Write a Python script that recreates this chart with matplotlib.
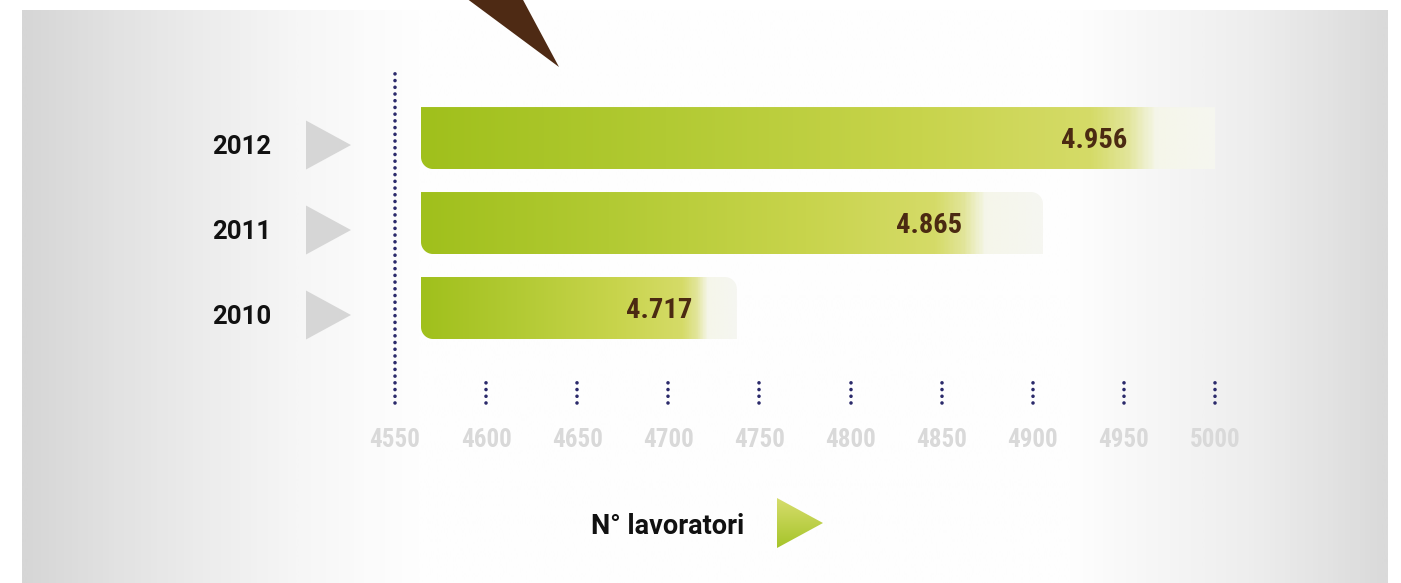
import matplotlib
matplotlib.use("Agg")
import matplotlib.pyplot as plt
import numpy as np
from matplotlib import font_manager
from matplotlib.colors import LinearSegmentedColormap, Normalize
from matplotlib.patches import Polygon, PathPatch
from matplotlib.path import Path
from matplotlib.transforms import blended_transform_factory

# data
years = ["2010", "2011", "2012"]
workers = [4717, 4865, 4956]
tick_values = [4550, 4600, 4650, 4700, 4750, 4800, 4850, 4900, 4950, 5000]
axis_title = "N° lavoratori"

W, H = 1401, 583
BOLD = ["Roboto", "DejaVu Sans"]
DOT_BLUE = "#2b2a6b"


def pick_narrow_bold():
    """Find a condensed bold face among the installed fonts."""
    prefs = ["Roboto Condensed", "Open Sans Condensed", "Liberation Sans Narrow",
             "DejaVu Sans Condensed", "DejaVu Sans"]
    found = {}
    for f in font_manager.fontManager.ttflist:
        w = f.weight if isinstance(f.weight, int) else font_manager.weight_dict.get(f.weight, 400)
        narrow = f.stretch in ("condensed", "semi-condensed", "extra-condensed") \
            or "Narrow" in f.name or "Condensed" in f.name or "Cond" in f.fname
        if narrow and w >= 600 and "Italic" not in f.fname and "Oblique" not in f.fname:
            found.setdefault(f.name, f.fname)
    for name in prefs:
        if name in found:
            return font_manager.FontProperties(fname=found[name])
    if found:
        return font_manager.FontProperties(fname=sorted(found.values())[0])
    return font_manager.FontProperties(family="DejaVu Sans", weight="bold",
                                       stretch="condensed")


narrow_fp = pick_narrow_bold()

fig = plt.figure(figsize=(W / 100, H / 100), dpi=100)
fig.patch.set_facecolor("white")

# backdrop in pixel coordinates
bg = fig.add_axes([0, 0, 1, 1])
bg.axis("off")

panel_cmap = LinearSegmentedColormap.from_list(
    "panel",
    [(0.0, "#d6d6d6"), (0.072, "#e3e3e3"), (0.13, "#ececec"), (0.2, "#f6f6f6"),
     (0.25, "#fbfbfb"), (0.29, "#fefefe"), (0.77, "#fefefe"), (0.825, "#f7f7f7"),
     (0.9, "#eeeeee"), (0.957, "#e3e3e3"), (1.0, "#dadada")],
)
bg.imshow(np.linspace(0, 1, 600).reshape(1, -1), cmap=panel_cmap, aspect="auto",
          extent=[22, 1388, 583, 10], interpolation="bilinear")

# brown pointer at the top
bg.add_patch(Polygon([(466, -2), (522, -2), (559, 67)], closed=True,
                     facecolor="#4e2a14", edgecolor="none"))

# axis title with green arrow
bg.text(744, 527, axis_title, ha="right", va="center", fontsize=19.5,
        fontweight="bold", family=BOLD, color="#111111")
arrow = Polygon([(777, 498), (823, 523), (777, 548)], closed=True,
                facecolor="none", edgecolor="none")
bg.add_patch(arrow)
arrow_cmap = LinearSegmentedColormap.from_list("arrow", ["#a6c42a", "#d6dd6c"])
arrow_img = bg.imshow(np.linspace(0, 1, 100).reshape(-1, 1), cmap=arrow_cmap,
                      aspect="auto", extent=[777, 823, 548, 498], origin="lower")
arrow_img.set_clip_path(arrow)

bg.set_xlim(0, W)
bg.set_ylim(H, 0)

# main chart axes
ax = fig.add_axes([395 / W, (H - 406) / H, 820 / W, 338 / H])
ax.patch.set_alpha(0)
for spine in ax.spines.values():
    spine.set_visible(False)

px_x = 820 / (tick_values[-1] - tick_values[0])  # pixels per worker
px_y = 85.0  # pixels per category step
bar_h = 62 / px_y
bar_left = tick_values[0] + 26 / px_x
rx, ry = 12 / px_x, 12 / px_y

bar_cmap = LinearSegmentedColormap.from_list(
    "bar",
    [(0.0, "#a0c01c"), (0.3, "#b2ca33"), (0.62, "#c8d44c"), (0.83, "#d5db68"),
     (0.875, "#e2e59a"), (0.91, "#f5f6ea"), (1.0, "#f6f6f1")],
)
tail_ratio = 1.135


def bar_outline(x0, x1, yc, h):
    """Bar shape with rounded bottom-left and top-right corners."""
    top, bottom = yc + h / 2, yc - h / 2
    a1 = np.linspace(np.pi / 2, 0, 12)
    a2 = np.linspace(3 * np.pi / 2, np.pi, 12)
    pts = [(x0, top)]
    pts += list(zip(x1 - rx + rx * np.cos(a1), top - ry + ry * np.sin(a1)))
    pts += [(x1, bottom)]
    pts += list(zip(x0 + rx + rx * np.cos(a2), bottom + ry + ry * np.sin(a2)))
    pts += [(x0, top)]
    codes = [Path.MOVETO] + [Path.LINETO] * (len(pts) - 2) + [Path.CLOSEPOLY]
    return Path(pts, codes)


for i, (year, value) in enumerate(zip(years, workers)):
    x_end = bar_left + (value - bar_left) * tail_ratio
    patch = PathPatch(bar_outline(bar_left, x_end, i, bar_h),
                      facecolor="none", edgecolor="none")
    ax.add_patch(patch)
    img = ax.imshow(np.linspace(0, 1, 400).reshape(1, -1), cmap=bar_cmap,
                    norm=Normalize(0, 1), aspect="auto",
                    extent=[bar_left, x_end, i - bar_h / 2, i + bar_h / 2],
                    interpolation="bilinear")
    img.set_clip_path(patch)

    label = f"{value:,}".replace(",", ".")
    ax.text(value - 4, i - 0.03, label, ha="right", va="center", fontsize=20.5,
            fontproperties=narrow_fp, color="#4b2a12")

# year labels and grey arrows on the left
row_tf = blended_transform_factory(bg.transData, ax.transData)
for i, year in enumerate(years):
    yl = i - 7 / px_y
    ax.text(271, yl - 0.02, year, transform=row_tf, ha="right", va="center",
            fontsize=18.5, fontweight="bold", family=BOLD, color="#111111")
    tri_h = 49 / px_y
    ax.add_patch(Polygon([(306, yl + tri_h / 2), (351, yl), (306, yl - tri_h / 2)],
                         closed=True, transform=row_tf, facecolor="#d6d6d6",
                         edgecolor="none", clip_on=False))

# dotted axis line and dotted tick marks
dot_style = dict(color=DOT_BLUE, linewidth=2.6, linestyle=(0, (0.01, 1.85)),
                 dash_capstyle="round", clip_on=False)
ax.plot([tick_values[0], tick_values[0]], [-1.12, 2.824], **dot_style)
for t in tick_values[1:]:
    ax.plot([t, t], [-1.12, -0.83], **dot_style)

ax.set_xlim(tick_values[0], tick_values[-1])
ax.set_ylim(-1.153, 2.824)
ax.set_yticks([])
ax.set_xticks(tick_values)
ax.set_xticklabels([str(t) for t in tick_values], fontproperties=narrow_fp,
                   color="#d9d9d9")
for lbl in ax.get_xticklabels():
    lbl.set_fontsize(18)
ax.tick_params(axis="x", length=0, pad=16)

fig.savefig("out.png", dpi=100, facecolor="white")
